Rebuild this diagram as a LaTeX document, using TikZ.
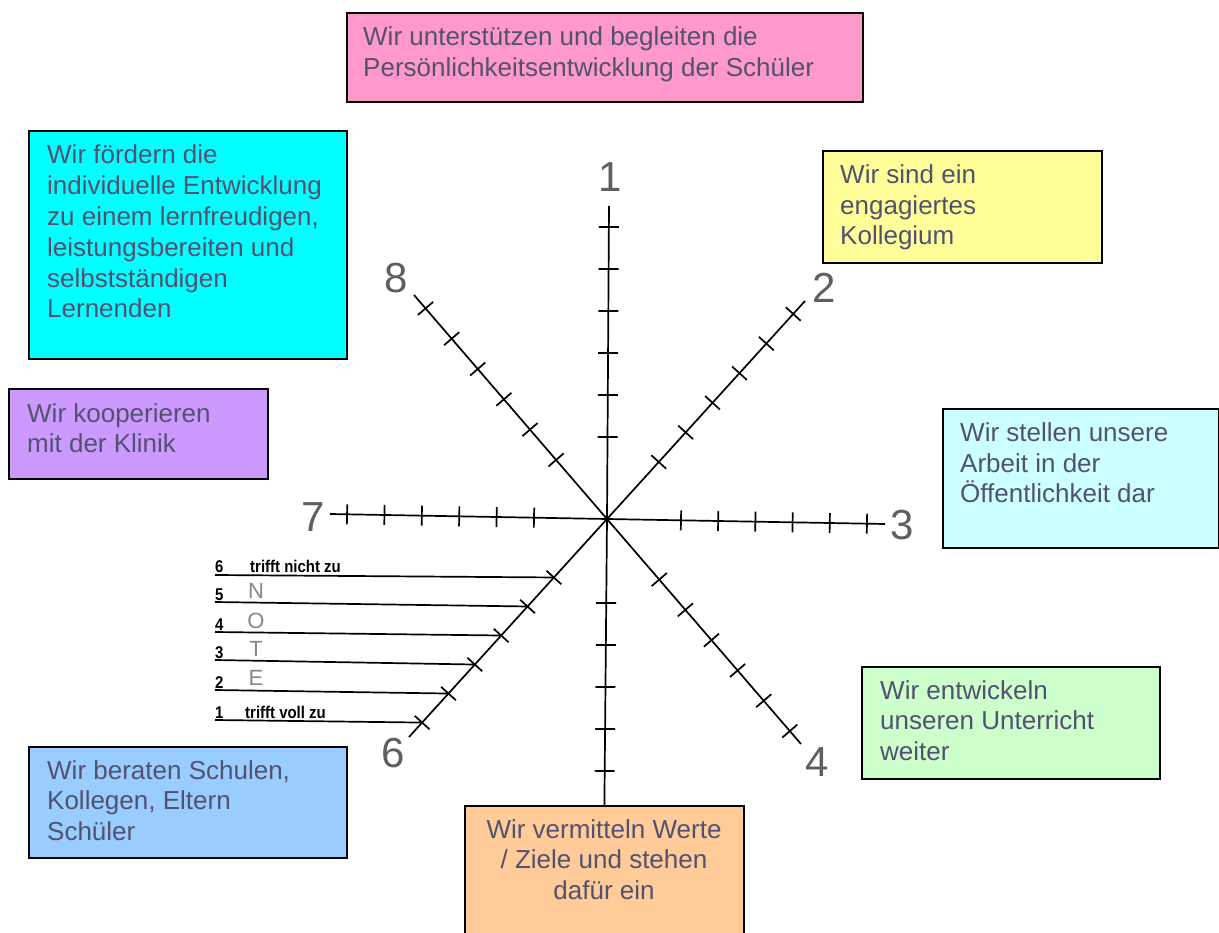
\documentclass[tikz,border=0pt]{standalone}
\usepackage{fontspec}
\setmainfont{Liberation Sans}
\newfontfamily\legfont[FakeStretch=0.88]{Liberation Sans}
\usetikzlibrary{calc,decorations.markings}
\definecolor{txtcol}{RGB}{82,82,112}
\definecolor{cpink}{HTML}{FF99CC}
\definecolor{ccyan}{HTML}{00FFFF}
\definecolor{cyellow}{HTML}{FFFF99}
\definecolor{cpurple}{HTML}{CC99FF}
\definecolor{clcyan}{HTML}{CCFFFF}
\definecolor{cgreen}{HTML}{CCFFCC}
\definecolor{cblue}{HTML}{99CCFF}
\definecolor{corange}{HTML}{FFCC99}
\definecolor{labgray}{RGB}{95,95,95}
\definecolor{notegray}{RGB}{135,135,135}
\newcommand{\boxfont}{\fontsize{26}{30.5}\selectfont}
\tikzset{
  axisline/.style={line width=1.7pt, black},
  axistk/.style n args={3}{axisline, postaction={decorate},
    decoration={markings, mark=between positions #1 and #2 step #3 with {\draw[axisline] (0pt,-10pt) -- (0pt,10pt);}}},
  sbox/.style={draw=black, line width=1.8pt, anchor=north west, inner sep=0pt},
  btxt/.style={inner sep=0pt, text=txtcol},
  axlab/.style={inner sep=0pt, text=labgray, font=\fontsize{42}{42}\selectfont},
  legnum/.style={inner sep=0pt, anchor=base west, font=\legfont\fontsize{17}{17}\selectfont\bfseries},
  notelet/.style={inner sep=0pt, anchor=base, text=notegray, font=\fontsize{22}{22}\selectfont},
}
\begin{document}
\begin{tikzpicture}[x=1pt, y=-1pt]
\useasboundingbox (0,0) rectangle (1219,933);
\fill[white] (0,0) rectangle (1219,933);

% boxes
\node[sbox, fill=cpink,   minimum width=516pt, minimum height=89pt]  (b1) at (346,12) {};
\node[sbox, fill=ccyan,   minimum width=318pt, minimum height=228pt] (b8) at (28,130) {};
\node[sbox, fill=cyellow, minimum width=279pt, minimum height=112pt] (b2) at (822,150) {};
\node[sbox, fill=cpurple, minimum width=259pt, minimum height=90pt]  (b7) at (8,388) {};
\node[sbox, fill=clcyan,  minimum width=276pt, minimum height=139pt] (b3) at (942,408) {};
\node[sbox, fill=cgreen,  minimum width=298pt, minimum height=112pt] (b4) at (861,666) {};
\node[sbox, fill=cblue,   minimum width=318pt, minimum height=111pt] (b6) at (28,746) {};
\node[sbox, fill=corange, minimum width=279pt, minimum height=132pt] (b5) at (464,805) {};

% box texts
\node[btxt, anchor=base west] (t1) at (363,46) {\parbox[t]{490pt}{\boxfont\raggedright Wir unterstützen und begleiten die\\Persönlichkeitsentwicklung der Schüler}};
\node[btxt, anchor=base west] (t8) at (47,164) {\parbox[t]{295pt}{\fontsize{26}{30.8}\selectfont\raggedright Wir fördern die\\individuelle Entwicklung\\zu einem lernfreudigen,\\leistungsbereiten und\\selbstständigen\\Lernenden}};
\node[btxt, anchor=base west] (t2) at (840,184) {\parbox[t]{255pt}{\boxfont\raggedright Wir sind ein\\engagiertes\\Kollegium}};
\node[btxt, anchor=base west] (t7) at (27,422) {\parbox[t]{235pt}{\boxfont\raggedright Wir kooperieren\\mit der Klinik}};
\node[btxt, anchor=base west] (t3) at (960,442) {\parbox[t]{255pt}{\boxfont\raggedright Wir stellen unsere\\Arbeit in der\\Öffentlichkeit dar}};
\node[btxt, anchor=base west] (t4) at (880,699) {\parbox[t]{275pt}{\boxfont\raggedright Wir entwickeln\\unseren Unterricht\\weiter}};
\node[btxt, anchor=base west] (t6) at (47,779) {\parbox[t]{295pt}{\boxfont\raggedright Wir beraten Schulen,\\Kollegen, Eltern\\Schüler}};
\node[btxt, anchor=base] (t5) at (604,838) {\parbox[t]{270pt}{\boxfont\centering Wir vermitteln Werte\\/ Ziele und stehen\\dafür ein}};

% axes
\coordinate (C) at (607,519);
\coordinate (E1) at (609,206);
\coordinate (E2) at (805,301);
\coordinate (E3) at (885,524);
\coordinate (E4) at (801,744);
\coordinate (E6) at (409,737);
\coordinate (E7) at (330,514);
\coordinate (E8) at (414,295);

\draw[axistk={82pt}{293pt}{42pt}] (C) -- (E1);
\draw[axistk={77pt}{278pt}{40pt}] (C) -- (E2);
\draw[axistk={74pt}{261pt}{37.2pt}] (C) -- (E3);
\draw[axistk={80pt}{281pt}{40pt}] (C) -- (E4);
\draw[axistk={84pt}{253pt}{42pt}] (C) -- (b5.north);
\draw[axistk={79pt}{276pt}{39.2pt}] (C) -- (E6);
\draw[axistk={73pt}{261pt}{37.4pt}] (C) -- (E7);
\draw[axistk={78pt}{279pt}{40pt}] (C) -- (E8);

% axis labels
\node[axlab] (n1) at (610,177) {1};
\node[axlab] (n2) at (824,288) {2};
\node[axlab] (n3) at (902,525) {3};
\node[axlab] (n4) at (817,762) {4};
\node[axlab] (n6) at (393,753) {6};
\node[axlab] (n7) at (313,517) {7};
\node[axlab] (n8) at (396,278) {8};

% legend
\coordinate (k1) at ($(C)!275pt!(E6)$);
\coordinate (k2) at ($(C)!235.8pt!(E6)$);
\coordinate (k3) at ($(C)!196.6pt!(E6)$);
\coordinate (k4) at ($(C)!157.4pt!(E6)$);
\coordinate (k5) at ($(C)!118.2pt!(E6)$);
\coordinate (k6) at ($(C)!79pt!(E6)$);
\coordinate (L1) at (215,720);
\coordinate (L2) at (215,690);
\coordinate (L3) at (215,660);
\coordinate (L4) at (215,632);
\coordinate (L5) at (215,602);
\coordinate (L6) at (215,575);
\draw[axisline] (L1) -- (k1);
\draw[axisline] (L2) -- (k2);
\draw[axisline] (L3) -- (k3);
\draw[axisline] (L4) -- (k4);
\draw[axisline] (L5) -- (k5);
\draw[axisline] (L6) -- (k6);

\node[legnum] (g6) at (215,572) {6};
\node[legnum] (g5) at (215,600) {5};
\node[legnum] (g4) at (215,630) {4};
\node[legnum] (g3) at (215,658) {3};
\node[legnum] (g2) at (215,688) {2};
\node[legnum] (g1) at (215,718) {1};
\node[legnum] (gt6) at (250,572) {trifft nicht zu};
\node[legnum] (gt1) at (245,718) {trifft voll zu};
\node[notelet] (nN) at (256,598) {N};
\node[notelet] (nO) at (256,628) {O};
\node[notelet] (nT) at (256,656) {T};
\node[notelet] (nE) at (256,685) {E};
\end{tikzpicture}
\end{document}
